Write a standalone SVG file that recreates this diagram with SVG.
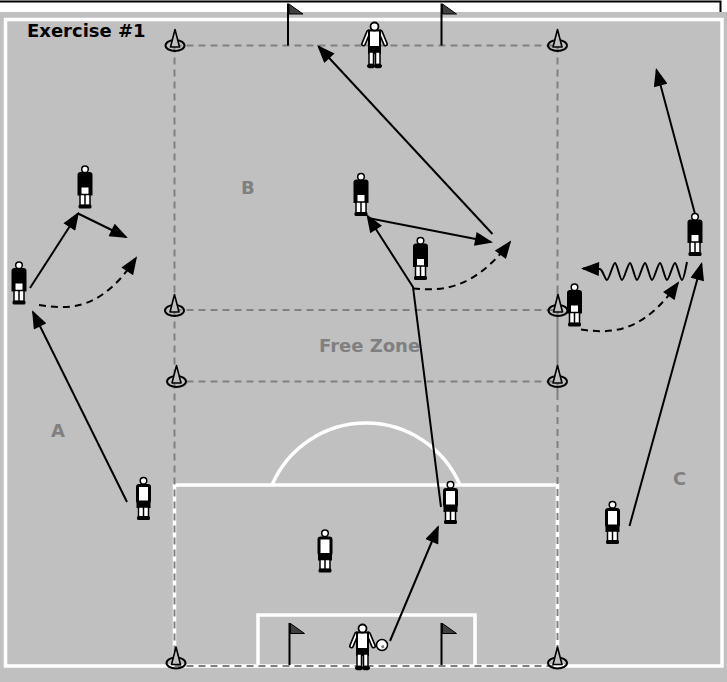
<svg xmlns="http://www.w3.org/2000/svg" width="727" height="682" viewBox="0 0 727 682">
  <defs>
    <style>
      .chalk{fill:none;stroke:#fff;stroke-width:3.5}
      .zone{fill:none;stroke:#808080;stroke-width:2;stroke-dasharray:7 5}
      .run{fill:none;stroke:#000;stroke-width:2;marker-end:url(#head)}
      .dash{stroke-dasharray:7 5}
      .lbl{font-family:"DejaVu Sans",Verdana,sans-serif;font-weight:bold;font-size:18px;fill:#808080}
      .title{font-family:"DejaVu Sans",Verdana,sans-serif;font-weight:bold;font-size:18px;fill:#000}
    </style>
    <marker id="head" markerUnits="userSpaceOnUse" markerWidth="19" markerHeight="14" refX="16" refY="7" orient="auto" viewBox="0 0 18 14">
      <path d="M0,0 L18,7 L0,14 Z" fill="#000"/>
    </marker>
    <!-- marker cone -->
    <g id="cone">
      <ellipse cx="0" cy="0" rx="9.5" ry="5.5" fill="none" stroke="#000" stroke-width="2"/>
      <path d="M-4.5,1.5 L0,-16 L4.5,1.5 Z" fill="#c0c0c0" stroke="#000" stroke-width="1.6" stroke-linejoin="round"/>
    </g>
    <!-- corner flag / goal post -->
    <g id="flag">
      <line x1="0" y1="0" x2="0" y2="42" stroke="#000" stroke-width="2"/>
      <path d="M1,0.5 L15,10.5 L1,10.5 Z" fill="#404040" stroke="#000" stroke-width="1"/>
    </g>
    <!-- dark-shirt player -->
    <g id="pDark">
      <path d="M-7.5,30 V9.5 Q-7.5,6.5 -4.5,6.5 H4.5 Q7.5,6.5 7.5,9.5 V30 Z" fill="#000"/>
      <rect x="-3.5" y="22" width="7" height="8" fill="#fff"/>
      <rect x="-5" y="29" width="10" height="11" fill="#fff" stroke="#000" stroke-width="1.5"/>
      <line x1="0" y1="29" x2="0" y2="40" stroke="#000" stroke-width="1.5"/>
      <rect x="-6.5" y="39" width="13" height="4" rx="1.5" fill="#000"/>
      <circle cx="0" cy="3.8" r="3.3" fill="#fff" stroke="#000" stroke-width="1.5"/>
    </g>
    <!-- light-shirt player -->
    <g id="pLight">
      <rect x="-6" y="8.5" width="12" height="16.5" rx="1.5" fill="#fff" stroke="#000" stroke-width="3"/>
      <rect x="-7" y="24.5" width="14" height="6.5" fill="#000"/>
      <rect x="-5" y="30" width="10" height="10" fill="#fff" stroke="#000" stroke-width="1.5"/>
      <line x1="0" y1="30" x2="0" y2="40" stroke="#000" stroke-width="1.5"/>
      <rect x="-6.5" y="39" width="13" height="4" rx="1.5" fill="#000"/>
      <circle cx="0" cy="3.8" r="3.3" fill="#fff" stroke="#000" stroke-width="1.5"/>
    </g>
    <!-- goalkeeper -->
    <g id="keeper">
      <path d="M-6,10 L-11,22 M6,10 L11,22" stroke="#000" stroke-width="5" stroke-linecap="round"/>
      <path d="M-6,10 L-11,22 M6,10 L11,22" stroke="#fff" stroke-width="1.8" stroke-linecap="round"/>
      <rect x="-5.5" y="8.5" width="11" height="16.5" fill="#fff" stroke="#000" stroke-width="2"/>
      <rect x="-6.5" y="24.5" width="13" height="7.5" fill="#000"/>
      <rect x="-5.5" y="30" width="4.5" height="12.5" fill="#fff" stroke="#000" stroke-width="1.5"/>
      <rect x="1" y="30" width="4.5" height="12.5" fill="#fff" stroke="#000" stroke-width="1.5"/>
      <ellipse cx="-3.5" cy="44" rx="4" ry="2.3" fill="#000"/>
      <ellipse cx="3.5" cy="44" rx="4" ry="2.3" fill="#000"/>
      <circle cx="0" cy="4.5" r="4" fill="#fff" stroke="#000" stroke-width="1.8"/>
    </g>
  </defs>

  <!-- page strip and frame -->
  <rect x="0" y="0" width="727" height="12" fill="#fff"/>
  <path d="M0,1.5 H720.5 V12" fill="none" stroke="#000" stroke-width="2"/>

  <!-- pitch -->
  <g id="pitch">
    <rect x="0" y="12" width="727" height="670" fill="#c0c0c0"/>
    <rect class="chalk" x="5.5" y="19.5" width="716.5" height="646.5"/>
    <path class="chalk" d="M174.5,666 V485 H557.5 V666"/>
    <path class="chalk" d="M258,666 V615 H475 V666"/>
    <path class="chalk" d="M272,485 A102.3,102.3 0 0 1 460,485"/>
  </g>

  <!-- coned practice zones -->
  <g id="zones">
    <path class="zone" d="M174.5,45.5 H557.5 M174.5,310 H557.5 M174.5,381.5 H557.5 M174.5,666 H557.5"/>
    <path class="zone" d="M174.5,45.5 V666 M557.5,45.5 V290"/>
    <path class="zone" d="M557.5,393 V666"/>
    <line x1="557.5" y1="290" x2="557.5" y2="393" stroke="#808080" stroke-width="2"/>
  </g>

  <!-- goals -->
  <g id="goals">
    <use href="#flag" x="288" y="3.5"/>
    <use href="#flag" x="441.5" y="3.5"/>
    <use href="#flag" x="289.5" y="623"/>
    <use href="#flag" x="441.5" y="623"/>
  </g>

  <!-- cones -->
  <g id="cones">
    <use href="#cone" x="175" y="45.5"/>
    <use href="#cone" x="557.5" y="45.5"/>
    <use href="#cone" x="174.5" y="310.5"/>
    <use href="#cone" x="558" y="310.5"/>
    <use href="#cone" x="176.5" y="381.5"/>
    <use href="#cone" x="557.5" y="381.5"/>
    <use href="#cone" x="176" y="663"/>
    <use href="#cone" x="557.5" y="663"/>
  </g>

  <!-- labels -->
  <g id="labels">
    <text class="title" x="27" y="37">Exercise #1</text>
    <text class="lbl" x="241" y="194">B</text>
    <text class="lbl" x="51" y="437">A</text>
    <text class="lbl" x="673" y="485">C</text>
    <text class="lbl" x="319" y="352">Free Zone</text>
  </g>

  <!-- passes, runs and dribbles -->
  <g id="connectors">
    <line class="run" x1="127" y1="502" x2="33" y2="312"/>
    <line class="run" x1="30" y1="288" x2="78" y2="213.5"/>
    <line class="run" x1="78" y1="213.5" x2="126" y2="237"/>
    <path class="run dash" d="M39,305 C70,310 102,310 136,258"/>
    <polyline class="run" points="441,507 413,287 367.5,216"/>
    <line class="run" x1="368" y1="218" x2="491" y2="242"/>
    <line class="run" x1="492.5" y1="234" x2="318.5" y2="46.5"/>
    <path class="run dash" d="M413,288.5 C440,291 473,291 510,242"/>
    <line class="run" x1="390" y1="641" x2="438" y2="527"/>
    <line class="run" x1="629.5" y1="526" x2="701.5" y2="264"/>
    <line class="run" x1="695" y1="214" x2="656.5" y2="70"/>
    <path class="run" d="M687,262 C686,266 684,280 682,280 C680,280 677,263 675,263 C673,263 669,280 667,280 C665,280 662,263 660,263 C658,263 654,280 652,280 C650,280 647,263 645,263 C643,263 639,280 637,280 C635,280 632,263 630,263 C628,263 624,280 622,280 C620,280 617,263 615,263 C613,263 609,280 607,280 C605,280 603,270 600,269 L583,268.5"/>
    <path class="run dash" d="M581,329.5 C612,334 643,333 678,283"/>
  </g>

  <!-- players -->
  <g id="players">
    <use id="d1" href="#pDark" x="85" y="165.5"/>
    <use id="d2" href="#pDark" x="19" y="261.5"/>
    <use id="d3" href="#pDark" x="361" y="173"/>
    <use id="d4" href="#pDark" x="420.5" y="237"/>
    <use id="d5" href="#pDark" x="695" y="213"/>
    <use id="d6" href="#pDark" x="574.5" y="283.5"/>
    <use id="l1" href="#pLight" x="143.5" y="477"/>
    <use id="l2" href="#pLight" x="450.5" y="481"/>
    <use id="l3" href="#pLight" x="325" y="529.5"/>
    <use id="l4" href="#pLight" x="612.5" y="501"/>
    <use id="gkTop" href="#keeper" x="374.5" y="22"/>
    <use id="gkBottom" href="#keeper" x="362.5" y="624"/>
    <g id="ball">
      <circle cx="382" cy="645" r="5.5" fill="#fff" stroke="#000" stroke-width="1.5"/>
      <path d="M381,646 l2.5,-1 l1,2.5 l-2.5,1 Z" fill="#808080"/>
    </g>
  </g>
</svg>
